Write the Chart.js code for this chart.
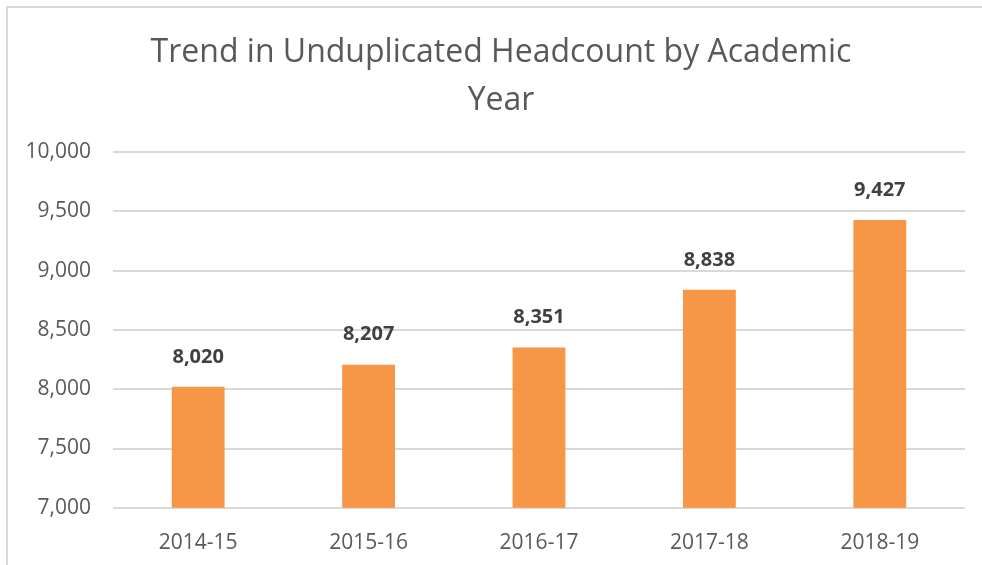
<!DOCTYPE html>
<html>
<head>
<meta charset="utf-8">
<script src="https://cdn.jsdelivr.net/npm/chart.js@4"></script>
<style>
  html, body { margin: 0; padding: 0; background: #fff; overflow: hidden; }
  #frame { position: absolute; left: 6px; top: 6px; width: 990px; height: 580px; border: 2px solid #d9d9d9; box-sizing: border-box; }
  #wrap { position: absolute; left: 0; top: 0; width: 982px; height: 579px; }
</style>
</head>
<body>
<div id="frame"></div>
<div id="wrap"><canvas id="chart"></canvas></div>
<script>
// Headcount data
const years = ['2014-15', '2015-16', '2016-17', '2017-18', '2018-19'];
const headcount = [8020, 8207, 8351, 8838, 9427];
const yMin = 7000;
const yMax = 10000;
const yStep = 500;

const fontFamily = "'Open Sans', 'Noto Sans', sans-serif";

// draws the value above each bar
const barLabels = {
    id: 'barLabels',
    afterDatasetsDraw(chart) {
        const ctx = chart.ctx;
        const meta = chart.getDatasetMeta(0);
        ctx.save();
        ctx.font = 'bold 20px ' + fontFamily;
        ctx.fillStyle = '#404040';
        ctx.textAlign = 'center';
        ctx.textBaseline = 'middle';
        meta.data.forEach((bar, i) => {
            ctx.fillText(headcount[i].toLocaleString('en-US'), bar.x, bar.y - 30);
        });
        ctx.restore();
    }
};

// the title sits a bit right of the canvas centre, so the y axis box is
// narrowed by padding; widen it again after layout so its labels are not clipped
const widenYAxis = {
    id: 'widenYAxis',
    afterLayout(chart) {
        chart.scales.y.left = 0;
    }
};

new Chart(document.getElementById('chart'), {
    type: 'bar',
    data: {
        labels: years,
        datasets: [{
            data: headcount,
            backgroundColor: '#f79646',
            barPercentage: 0.31,
            categoryPercentage: 1
        }]
    },
    options: {
        responsive: true,
        maintainAspectRatio: false,
        animation: false,
        layout: { padding: { left: 37, right: 17, top: 29, bottom: 0 } },
        plugins: {
            legend: { display: false },
            tooltip: { enabled: false },
            title: {
                display: true,
                text: ['Trend in Unduplicated Headcount by Academic', 'Year'],
                color: '#595959',
                font: { family: fontFamily, size: 32, weight: 'normal', lineHeight: 1.5 },
                padding: { top: 0, bottom: 27 }
            }
        },
        scales: {
            x: {
                grid: { display: false, drawTicks: false },
                border: { display: false },
                ticks: { color: '#595959', font: { family: fontFamily, size: 21 }, padding: 23 }
            },
            y: {
                min: yMin,
                max: yMax,
                afterFit: scale => { scale.width = 76; },
                grid: { color: '#d9d9d9', lineWidth: 2, drawTicks: false },
                border: { display: false },
                ticks: {
                    stepSize: yStep,
                    color: '#595959',
                    font: { family: fontFamily, size: 21 },
                    padding: 22,
                    callback: v => v.toLocaleString('en-US')
                }
            }
        }
    },
    plugins: [barLabels, widenYAxis]
});
</script>
</body>
</html>
